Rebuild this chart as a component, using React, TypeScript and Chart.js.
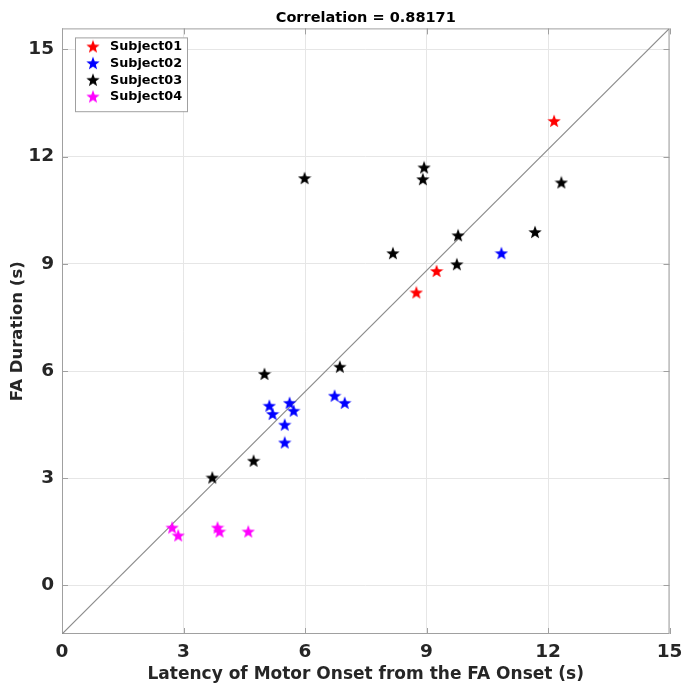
import React, { useEffect, useRef } from "react";
import { Chart, registerables } from "chart.js";

Chart.register(...registerables);

const TITLE = "Correlation = 0.88171";
const X_LABEL = "Latency of Motor Onset from the FA Onset (s)";
const Y_LABEL = "FA Duration (s)";
const X_MIN = 0;
const X_MAX = 15;
const Y_MIN = -1.36;
const Y_MAX = 15.59;
const X_TICKS = [0, 3, 6, 9, 12, 15];
const Y_TICKS = [0, 3, 6, 9, 12, 15];

const SUBJECTS = ["Subject01", "Subject02", "Subject03", "Subject04"];
const COLORS = ["#ff0000", "#0000ff", "#000000", "#ff00ff"];

const s1x = [12.15, 9.25, 8.75];
const s1y = [13.0, 8.8, 8.2];
const s2x = [10.85, 6.73, 6.98, 5.12, 5.2, 5.62, 5.72, 5.5, 5.5];
const s2y = [9.3, 5.31, 5.11, 5.03, 4.8, 5.11, 4.89, 4.5, 4.0];
const s3x = [5.0, 6.86, 4.73, 3.71, 5.99, 8.94, 8.91, 8.17, 9.78, 9.75, 12.33, 11.68];
const s3y = [5.92, 6.12, 3.49, 3.02, 11.4, 11.7, 11.37, 9.3, 9.8, 8.99, 11.28, 9.89];
const s4x = [2.72, 2.87, 3.84, 3.89, 4.6];
const s4y = [1.62, 1.4, 1.62, 1.51, 1.51];

const SERIES_X = [s1x, s2x, s3x, s4x];
const SERIES_Y = [s1y, s2y, s3y, s4y];

const FONT = "'DejaVu Sans', sans-serif";
const FRAME = "#a0a0a0";
const GRID = "#e6e6e6";
const TEXT = "#262626";

function makeStar(color: string, size: number): HTMLCanvasElement {
  const c = document.createElement("canvas");
  c.width = size;
  c.height = size;
  const ctx = c.getContext("2d")!;
  const cx = size / 2;
  const cy = size / 2 + 0.6;
  const R = size / 2;
  const r = R * 0.42;
  ctx.beginPath();
  for (let i = 0; i < 10; i++) {
    const rad = i % 2 === 0 ? R : r;
    const a = -Math.PI / 2 + (i * Math.PI) / 5;
    const px = cx + rad * Math.cos(a);
    const py = cy + rad * Math.sin(a);
    if (i === 0) ctx.moveTo(px, py);
    else ctx.lineTo(px, py);
  }
  ctx.closePath();
  ctx.fillStyle = color;
  ctx.fill();
  return c;
}

const framePlugin = {
  id: "frameTicks",
  beforeDatasetsDraw(chart: any) {
    const { ctx, chartArea: a, scales } = chart;
    ctx.save();
    ctx.strokeStyle = FRAME;
    ctx.lineWidth = 1;
    ctx.strokeRect(a.left + 0.5, a.top + 0.5, a.right - a.left - 1, a.bottom - a.top - 1);
    const tl = 6;
    ctx.beginPath();
    X_TICKS.forEach((v) => {
      const px = Math.round(scales.x.getPixelForValue(v)) + 0.5;
      ctx.moveTo(px, a.bottom);
      ctx.lineTo(px, a.bottom - tl);
      ctx.moveTo(px, a.top);
      ctx.lineTo(px, a.top + tl);
    });
    Y_TICKS.forEach((v) => {
      const py = Math.round(scales.y.getPixelForValue(v)) + 0.5;
      ctx.moveTo(a.left, py);
      ctx.lineTo(a.left + tl, py);
      ctx.moveTo(a.right, py);
      ctx.lineTo(a.right - tl, py);
    });
    ctx.stroke();
    ctx.restore();
  },
};

const legendPlugin = {
  id: "insideLegend",
  afterDatasetsDraw(chart: any) {
    const { ctx, chartArea: a } = chart;
    const items = chart.data.datasets.filter((d: any) => SUBJECTS.includes(d.label));
    const left = a.left + 13;
    const top = a.top + 9;
    const rowH = 16.7;
    const w = 112;
    const h = 7 + rowH * items.length;
    ctx.save();
    ctx.fillStyle = "#ffffff";
    ctx.fillRect(left, top, w, h);
    ctx.strokeStyle = FRAME;
    ctx.lineWidth = 1;
    ctx.strokeRect(left + 0.5, top + 0.5, w, h);
    ctx.font = `bold 12.8px ${FONT}`;
    ctx.textBaseline = "middle";
    items.forEach((d: any, i: number) => {
      const cy = top + 9 + i * rowH;
      const img = d.pointStyle as HTMLCanvasElement;
      ctx.drawImage(img, left + 18 - img.width / 2, cy - img.height / 2);
      ctx.fillStyle = "#000000";
      ctx.fillText(d.label, left + 35, cy + 0.5);
    });
    ctx.restore();
  },
};

export default function App() {
  const ref = useRef<HTMLCanvasElement | null>(null);

  useEffect(() => {
    if (!ref.current) return;
    const datasets: any[] = SUBJECTS.map((label, i) => ({
      label,
      type: "scatter",
      data: SERIES_X[i].map((x, j) => ({ x, y: SERIES_Y[i][j] })),
      pointStyle: makeStar(COLORS[i], 14),
      pointRadius: 7,
      backgroundColor: COLORS[i],
      borderColor: COLORS[i],
      showLine: false,
    }));
    datasets.push({
      label: "y=x",
      type: "line",
      data: [
        { x: X_MIN, y: Y_MIN },
        { x: X_MAX, y: Y_MAX },
      ],
      borderColor: "#8c8c8c",
      borderWidth: 1.2,
      pointRadius: 0,
      fill: false,
      tension: 0,
    });

    const chart = new Chart(ref.current, {
      type: "scatter",
      data: { datasets },
      options: {
        animation: false,
        responsive: false,
        events: [],
        layout: { padding: { left: 0, right: 13.5, top: 0, bottom: 0 } },
        plugins: {
          legend: { display: false },
          tooltip: { enabled: false },
          title: {
            display: true,
            text: TITLE,
            fullSize: false,
            color: "#000000",
            font: { family: FONT, size: 14.5, weight: "bold" },
            padding: { top: 10, bottom: 1 },
          },
        },
        scales: {
          x: {
            type: "linear",
            min: X_MIN,
            max: X_MAX,
            afterBuildTicks: (s: any) => {
              s.ticks = X_TICKS.map((v) => ({ value: v }));
            },
            afterFit: (s: any) => {
              s.height = 50;
              s.paddingLeft = 0;
              s.paddingRight = 0;
            },
            grid: { color: GRID, drawTicks: false },
            border: { display: false },
            ticks: {
              color: TEXT,
              padding: 7,
              maxRotation: 0,
              font: { family: FONT, size: 18.5, weight: "bold" },
            },
            title: {
              display: true,
              text: X_LABEL,
              color: TEXT,
              font: { family: FONT, size: 17, weight: "bold" },
              padding: { top: 0, bottom: -1 },
            },
          },
          y: {
            type: "linear",
            min: Y_MIN,
            max: Y_MAX,
            afterBuildTicks: (s: any) => {
              s.ticks = Y_TICKS.map((v) => ({ value: v }));
            },
            afterFit: (s: any) => {
              s.width = 62;
              s.paddingTop = 0;
              s.paddingBottom = 0;
            },
            grid: { color: GRID, drawTicks: false },
            border: { display: false },
            ticks: {
              color: TEXT,
              padding: 8,
              font: { family: FONT, size: 18.5, weight: "bold" },
            },
            title: {
              display: true,
              text: Y_LABEL,
              color: TEXT,
              font: { family: FONT, size: 16.5, weight: "bold" },
              padding: { top: 8, bottom: 0 },
            },
          },
        },
      } as any,
      plugins: [framePlugin, legendPlugin],
    });
    return () => chart.destroy();
  }, []);

  return (
    <div style={{ position: "absolute", left: 0, top: 0, width: 683, height: 684, background: "#fff" }}>
      <canvas ref={ref} width={683} height={684} style={{ width: 683, height: 684, display: "block" }} />
    </div>
  );
}
